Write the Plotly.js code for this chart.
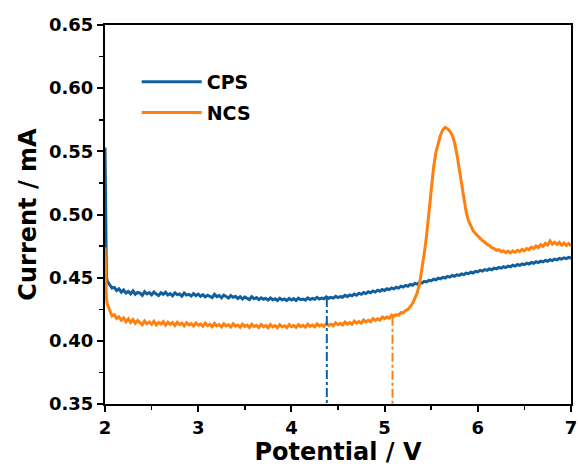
<!DOCTYPE html>
<html>
<head>
<meta charset="utf-8">
<script src="https://cdn.plot.ly/plotly-3.0.1.min.js"></script>
<style>html,body{margin:0;padding:0;background:#fff;}#chart{width:578px;height:466px;}</style>
</head>
<body>
<div id="chart"></div>
<script>
// Potential (V)
const potential = [
2.000,2.005,2.010,2.015,2.025,
2.050,2.075,2.100,2.125,2.150,2.175,2.200,2.225,
2.250,2.275,2.300,2.325,2.350,2.375,2.400,2.425,2.450,2.475,2.500,2.525,2.550,2.575,2.600,2.625,2.650,2.675,2.700,2.725,2.750,2.775,2.800,2.825,2.850,2.875,2.900,2.925,2.950,2.975,
3.000,3.025,3.050,3.075,3.100,3.125,3.150,3.175,3.200,3.225,3.250,3.275,3.300,3.325,3.350,3.375,3.400,3.425,3.450,3.475,3.500,3.525,3.550,3.575,3.600,3.625,3.650,3.675,3.700,3.725,3.750,3.775,3.800,3.825,3.850,3.875,3.900,3.925,3.950,3.975,
4.000,4.025,4.050,4.075,4.100,4.125,4.150,4.175,4.200,4.225,4.250,4.275,4.300,4.325,4.350,4.375,4.400,4.425,4.450,4.475,4.500,4.525,4.550,4.575,4.600,4.625,4.650,4.675,4.700,4.725,4.750,4.775,4.800,4.825,4.850,4.875,4.900,4.925,4.950,4.975,
5.000,5.025,5.050,5.075,5.100,5.125,5.150,5.175,5.200,5.225,5.250,5.275,5.300,5.325,5.350,5.375,5.400,5.425,5.450,5.475,5.500,5.525,5.550,5.575,5.600,5.625,5.650,5.675,5.700,5.725,5.750,5.775,5.800,5.825,5.850,5.875,5.900,5.925,5.950,5.975,
6.000,6.025,6.050,6.075,6.100,6.125,6.150,6.175,6.200,6.225,6.250,6.275,6.300,6.325,6.350,6.375,6.400,6.425,6.450,6.475,6.500,6.525,6.550,6.575,6.600,6.625,6.650,6.675,6.700,6.725,6.750,6.775,6.800,6.825,6.850,6.875,6.900,6.925,6.950,6.975,7.000
];

// CPS current (mA)
const cpsCurrent = [
0.553,0.485,0.458,0.451,0.447,
0.4440,0.4418,0.4423,0.4398,0.4412,0.4385,0.4402,0.4379,
0.4391,0.4372,0.4396,0.4369,0.4384,0.4378,0.4360,0.4389,0.4371,0.4382,0.4364,0.4387,0.4370,0.4359,0.4381,0.4368,0.4385,0.4362,0.4374,0.4357,0.4380,0.4366,0.4371,0.4353,0.4379,0.4362,0.4368,0.4355,0.4374,0.4358,
0.4370,0.4352,0.4366,0.4348,0.4361,0.4355,0.4343,0.4368,0.4350,0.4359,0.4341,0.4362,0.4347,0.4339,0.4358,0.4344,0.4352,0.4335,0.4349,0.4331,0.4346,0.4338,0.4327,0.4350,0.4333,0.4342,0.4326,0.4341,0.4329,0.4336,0.4322,0.4339,0.4325,0.4333,0.4319,0.4338,0.4324,0.4331,0.4318,0.4335,
0.4323,0.4334,0.4320,0.4338,0.4326,0.4331,0.4322,0.4340,0.4327,0.4336,0.4329,0.4344,0.4331,0.4339,0.4333,0.4348,0.4337,0.4344,0.4338,0.4353,0.4342,0.4351,0.4345,0.4361,0.4350,0.4363,0.4356,0.4370,0.4361,0.4377,0.4368,0.4382,0.4374,0.4389,0.4380,0.4395,0.4386,0.4401,0.4393,0.4406,
0.4398,0.4412,0.4405,0.4418,0.4411,0.4424,0.4417,0.4433,0.4425,0.4439,0.4432,0.4447,0.4440,0.4455,0.4449,0.4462,0.4457,0.4471,0.4466,0.4479,0.4474,0.4488,0.4483,0.4496,0.4491,0.4503,0.4497,0.4510,0.4504,0.4517,0.4511,0.4523,0.4518,0.4530,0.4524,0.4536,0.4531,0.4543,0.4537,0.4550,
0.4546,0.4558,0.4552,0.4564,0.4558,0.4570,0.4563,0.4575,0.4569,0.4581,0.4575,0.4587,0.4580,0.4592,0.4586,0.4598,0.4591,0.4604,0.4597,0.4609,0.4603,0.4615,0.4608,0.4620,0.4614,0.4626,0.4619,0.4631,0.4625,0.4637,0.4630,0.4642,0.4635,0.4647,0.4641,0.4652,0.4646,0.4657,0.4651,0.4660,0.4655
];

// NCS current (mA)
const ncsCurrent = [
0.474,0.452,0.441,0.434,0.429,
0.4235,0.4198,0.4207,0.4176,0.4190,0.4163,0.4181,0.4152,
0.4174,0.4145,0.4168,0.4139,0.4161,0.4143,0.4128,0.4157,0.4136,0.4150,0.4131,0.4155,0.4127,0.4146,0.4133,0.4152,0.4124,0.4148,0.4130,0.4144,0.4121,0.4147,0.4128,0.4139,0.4119,0.4143,0.4126,0.4136,0.4117,0.4141,
0.4124,0.4133,0.4115,0.4140,0.4121,0.4131,0.4112,0.4138,0.4119,0.4129,0.4110,0.4135,0.4118,0.4127,0.4109,0.4134,0.4116,0.4125,0.4107,0.4132,0.4114,0.4124,0.4106,0.4131,0.4113,0.4122,0.4105,0.4130,0.4112,0.4121,0.4104,0.4129,0.4111,0.4121,0.4104,0.4128,0.4111,0.4120,0.4105,0.4128,
0.4112,0.4121,0.4106,0.4129,0.4113,0.4123,0.4108,0.4131,0.4115,0.4125,0.4111,0.4134,0.4118,0.4128,0.4114,0.4137,0.4122,0.4132,0.4119,0.4142,0.4127,0.4138,0.4125,0.4148,0.4133,0.4145,0.4132,0.4156,0.4141,0.4153,0.4140,0.4165,0.4150,0.4163,0.4151,0.4176,0.4162,0.4175,0.4164,0.4189,
0.4176,0.4189,0.4180,0.4203,0.4194,0.4208,0.4203,0.4224,0.4221,0.4240,0.4248,0.4271,0.4295,0.4338,0.4380,0.4450,0.4560,0.4690,0.4830,0.5020,0.5230,0.5370,0.5490,0.5560,0.5630,0.5670,0.5690,0.5680,0.5660,0.5630,0.5570,0.5480,0.5360,0.5230,0.5120,0.5020,0.4950,0.4905,0.4872,0.4850,
0.4829,0.4812,0.4794,0.4781,0.4763,0.4754,0.4738,0.4731,0.4717,0.4722,0.4705,0.4713,0.4698,0.4710,0.4696,0.4712,0.4701,0.4717,0.4706,0.4724,0.4713,0.4731,0.4722,0.4742,0.4730,0.4751,0.4738,0.4762,0.4747,0.4772,0.4758,0.4790,0.4766,0.4781,0.4763,0.4779,0.4758,0.4774,0.4755,0.4770,0.4752
];

// Onset potentials (dash-dot markers)
const onsetPotential = [4.38, 5.085];
const onsetTop = [0.434, 0.419];
const axisBottom = 0.35;

const seriesNames = ['CPS', 'NCS'];
const seriesColors = ['#11609e', '#ff800e'];

const FONT = 'DejaVu Sans, Liberation Sans, Arial, sans-serif';

const traces = [
  {x: potential, y: cpsCurrent, type: 'scatter', mode: 'lines', name: seriesNames[0],
   line: {color: seriesColors[0], width: 3}, legendgroup: 'a'},
  {x: potential, y: ncsCurrent, type: 'scatter', mode: 'lines', name: seriesNames[1],
   line: {color: seriesColors[1], width: 3}, legendgroup: 'b'},
  {x: [onsetPotential[0], onsetPotential[0]], y: [onsetTop[0], axisBottom], type: 'scatter', mode: 'lines',
   line: {color: seriesColors[0], width: 2, dash: 'dashdot'}, showlegend: false, hoverinfo: 'skip'},
  {x: [onsetPotential[1], onsetPotential[1]], y: [onsetTop[1], axisBottom], type: 'scatter', mode: 'lines',
   line: {color: seriesColors[1], width: 2, dash: 'dashdot'}, showlegend: false, hoverinfo: 'skip'}
];

const axisCommon = {
  showline: true, linewidth: 2, linecolor: '#000', mirror: true,
  showgrid: false, zeroline: false,
  ticks: 'outside', ticklen: 6, tickwidth: 2, tickcolor: '#000',
  ticklabeloverflow: 'allow',
  tickfont: {family: FONT, size: 18, color: '#000', weight: 'bold'}
};

const layout = {
  width: 578, height: 466,
  margin: {l: 105, r: 7, t: 25, b: 62},
  paper_bgcolor: '#fff', plot_bgcolor: '#fff',
  showlegend: true,
  legend: {x: 0.068, y: 0.9, xanchor: 'left', yanchor: 'top', bgcolor: 'rgba(0,0,0,0)',
    font: {family: FONT, size: 19, color: '#000', weight: 'bold'},
    traceorder: 'grouped', tracegroupgap: 3, itemwidth: 60},
  xaxis: Object.assign({}, axisCommon, {
    range: [2, 7], dtick: 1, tick0: 2,
    minor: {ticks: 'outside', ticklen: 4, tickwidth: 1.5, tickcolor: '#000', dtick: 0.5},
    title: {text: 'Potential / V', font: {family: FONT, size: 24, color: '#000', weight: 'bold'}, standoff: 2}
  }),
  yaxis: Object.assign({}, axisCommon, {
    range: [0.35, 0.65], dtick: 0.05, tick0: 0.35, tickformat: '.2f',
    minor: {ticks: 'outside', ticklen: 4, tickwidth: 1.5, tickcolor: '#000', dtick: 0.025},
    title: {text: 'Current / mA', font: {family: FONT, size: 24, color: '#000', weight: 'bold'}, standoff: 6}
  })
};

Plotly.newPlot('chart', traces, layout, {displayModeBar: false, staticPlot: true});
</script>
</body>
</html>
